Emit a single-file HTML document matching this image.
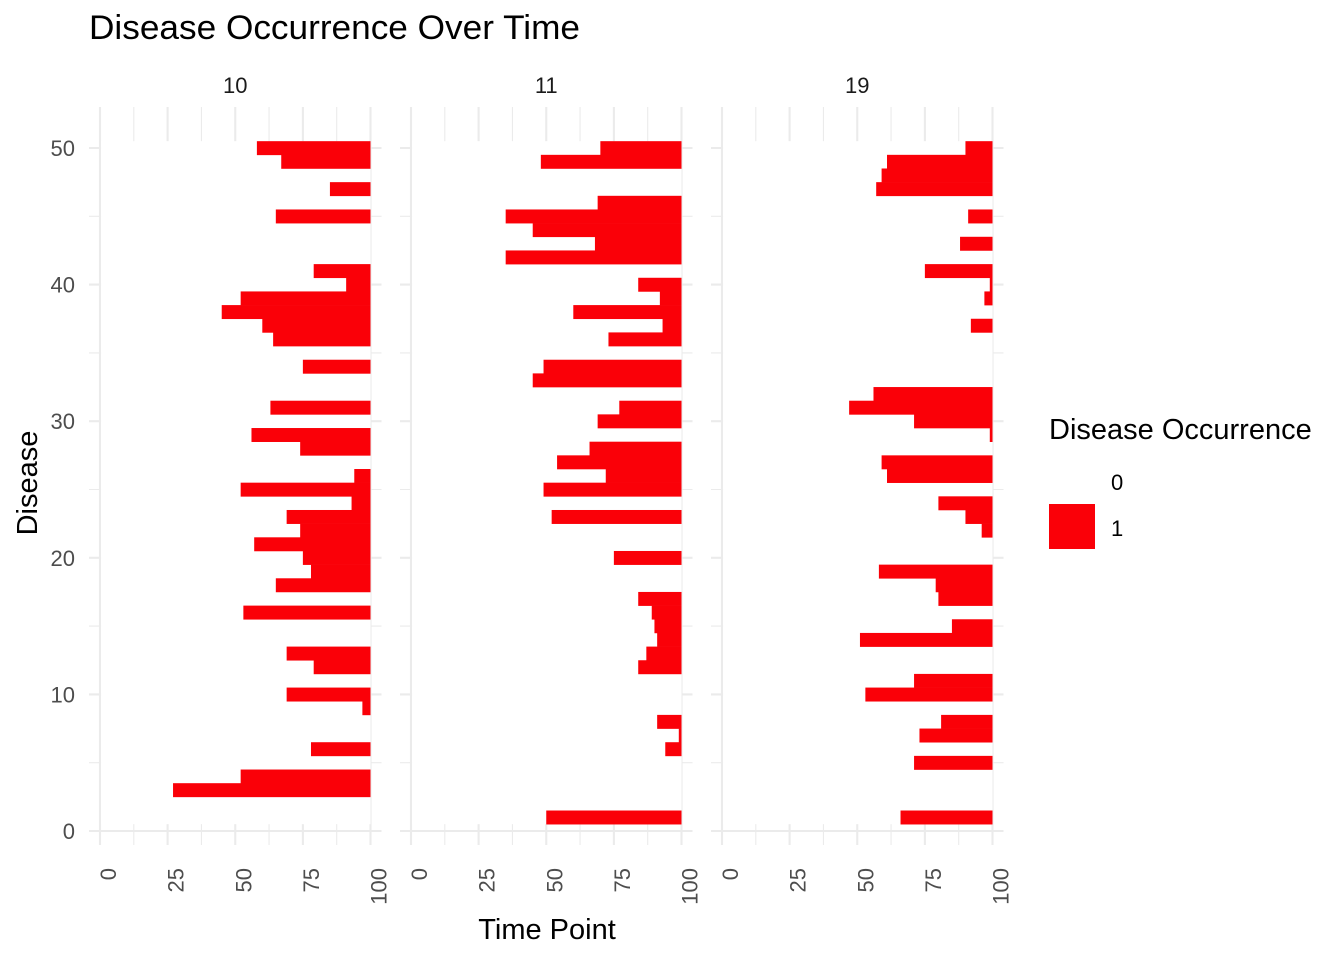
<!DOCTYPE html>
<html><head><meta charset="utf-8"><style>
body{margin:0;background:#fff;}
svg{display:block;font-family:"Liberation Sans",Arial,sans-serif;}
</style></head><body>
<svg id="chart" width="1344" height="960" viewBox="0 0 1344 960">
<text x="89" y="39" font-size="34" textLength="491" lengthAdjust="spacingAndGlyphs" fill="#000">Disease Occurrence Over Time</text>
<text x="547" y="939" font-size="29" text-anchor="middle" fill="#000">Time Point</text>
<text transform="translate(37,483) rotate(-90)" font-size="29" text-anchor="middle" fill="#000">Disease</text>
<g>
<text x="1049" y="439" font-size="29" fill="#000">Disease Occurrence</text>
<rect x="1049" y="459" width="46" height="45" fill="#fff"/>
<text x="1111" y="490" font-size="22" fill="#000">0</text>
<rect x="1049" y="504" width="46" height="45" fill="#fa0008"/>
<text x="1111" y="536" font-size="22" fill="#000">1</text>
</g>
<g id="panels"></g>
</svg>
<script>
const facets = ["10","11","19"];
const xTicks = [0,25,50,75,100];
const yTicks = [0,10,20,30,40,50];
// start time of occurrence for disease 1..50 (null = none)
const panel10 = [null,null,27,52,null,78,null,null,97,69,null,79,69,null,null,53,null,65,78,75,57,74,69,93,52,94,null,74,56,null,63,null,null,75,null,64,60,45,52,91,79,null,null,null,65,null,85,null,67,58];
const panel11 = [50,null,null,null,null,94,99,91,null,null,null,84,87,91,90,89,84,null,null,75,null,null,52,null,49,72,54,66,null,69,77,null,45,49,null,73,93,60,92,84,null,35,68,45,35,69,null,null,48,70];
const panel19 = [66,null,null,null,71,null,73,81,null,53,71,null,null,51,85,null,80,79,58,null,null,96,90,80,null,61,59,null,99,71,47,56,null,null,null,null,92,null,97,99,75,null,88,null,91,null,57,59,61,90];
const panelData = [panel10, panel11, panel19];

const NS = "http://www.w3.org/2000/svg";
const x0s = [100, 411, 722];
const xScale = 2.705;
function xs(p, t){ return x0s[p] + t * xScale; }
function ys(v){ return 831 - v * 13.66; }
function mk(tag, attrs, parent){ const e = document.createElementNS(NS, tag); for (const k in attrs) e.setAttribute(k, attrs[k]); parent.appendChild(e); return e; }
const root = document.getElementById("panels");

facets.forEach((f, p) => {
  const g = mk("g", {}, root);
  
  
  const left = xs(p, 0) - 11, right = xs(p, 100) + 11, top = 107, bottom = 845;
  [12.5, 37.5, 62.5, 87.5].forEach(t => {
    const l = mk("line", {x1: xs(p,t), x2: xs(p,t), y1: top, y2: bottom, stroke: "#ebebeb", "stroke-width": 1.1}, g);
    
    
  });
  [5, 15, 25, 35, 45].forEach(v => {
    const l = mk("line", {x1: left, x2: right, y1: ys(v), y2: ys(v), stroke: "#ebebeb", "stroke-width": 1.1}, g);
    
    
  });
  xTicks.forEach(t => {
    const l = mk("line", {x1: xs(p,t), x2: xs(p,t), y1: top, y2: bottom, stroke: "#ebebeb", "stroke-width": 2.1}, g);
    
    
  });
  yTicks.forEach(v => {
    const l = mk("line", {x1: left, x2: right, y1: ys(v), y2: ys(v), stroke: "#ebebeb", "stroke-width": 2.1}, g);
    
    
  });
  const w = mk("rect", {x: xs(p,0.4), y: ys(50.5), width: xs(p,100)-xs(p,0.4), height: ys(0.5)-ys(50.5), fill: "#fff"}, g);
  
  
  panelData[p].forEach((s, i) => {
    if (s === null) return;
    const d = i + 1;
    const r = mk("rect", {x: xs(p,s), y: ys(d+0.5), width: xs(p,100)-xs(p,s), height: ys(d-0.5)-ys(d+0.5)+0.3, fill: "#fa0008"}, g);
    
    
  });
  const st = mk("text", {x: (xs(p,0)+xs(p,100))/2, y: 93, "font-size": 22, "text-anchor": "middle", fill: "#1a1a1a"}, g);
  st.textContent = f;
  
  
  xTicks.forEach(t => {
    const tx = mk("text", {transform: "translate(" + (xs(p,t)+16) + ",868) rotate(-90)", "font-size": 22, "text-anchor": "end", fill: "#4d4d4d"}, g);
    tx.textContent = t;
    
    
  });
});
yTicks.forEach(v => {
  const tx = mk("text", {x: 75, y: ys(v)+8, "font-size": 22, "text-anchor": "end", fill: "#4d4d4d"}, root);
  tx.textContent = v;
  
  
});
</script>
</body></html>
